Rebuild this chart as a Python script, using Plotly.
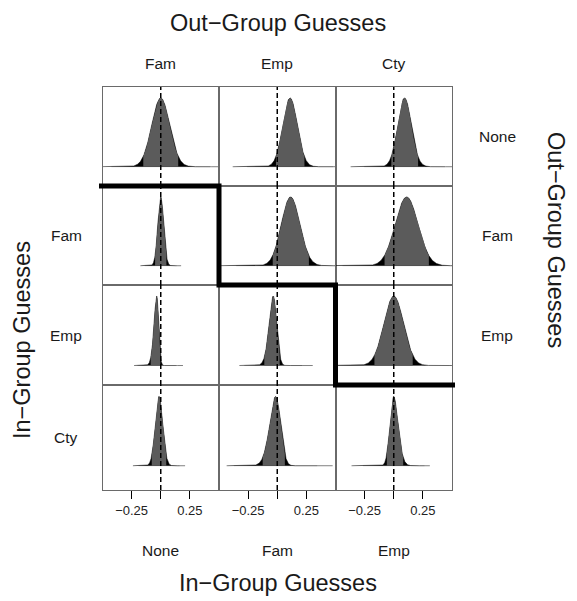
import numpy as np
import plotly.graph_objects as go
from math import erf, sqrt

# ---------------- data ----------------
top_labels = ["Fam", "Emp", "Cty"]          # out-group guesses (columns, top)
right_labels = ["None", "Fam", "Emp"]       # out-group guesses (rows 1-3, right)
left_labels = ["Fam", "Emp", "Cty"]         # in-group guesses (rows 2-4, left)
bottom_labels = ["None", "Fam", "Emp"]      # in-group guesses (columns, bottom)

# per panel (row x col): mode of the posterior density, its spread, its skew
peak = [[0.000, 0.110, 0.093],
        [0.000, 0.115, 0.110],
        [-0.035, -0.035, 0.000],
        [-0.015, -0.015, 0.000]]
spread = [[0.077, 0.067, 0.063],
          [0.025, 0.085, 0.100],
          [0.030, 0.045, 0.090],
          [0.032, 0.065, 0.048]]
skew = [[0.0, 0.5, 0.5],
        [0.0, 0.5, 0.3],
        [-2.0, -1.5, -0.5],
        [0.0, -1.5, 1.5]]

tick_vals = [-0.25, 0.0, 0.25]
tick_text = ["\u22120.25", "", "0.25"]

# ---------------- layout geometry (pixels of the 577x601 window) ----------------
PAGE_OFF = 8            # default page margin around the figure
W, H = 577 - PAGE_OFF, 601 - PAGE_OFF
X_EDGES = [102.5, 219, 335.5, 452]
Y_EDGES = [87, 186, 285, 385, 490]
def px(x):
    return (x - PAGE_OFF) / W
def py(y):
    return 1 - (y - PAGE_OFF) / H

FONT = "Liberation Sans, Arial, Helvetica, sans-serif"
GRAY_FILL = "#5b5b5b"
BORDER = "#6a6a6a"

fig = go.Figure()
shapes = []
annotations = []

for r in range(4):
    for c in range(3):
        k = r * 3 + c + 1
        xa = "x" if k == 1 else f"x{k}"
        ya = "y" if k == 1 else f"y{k}"
        m, s, a = peak[r][c], spread[r][c], skew[r][c]
        x = np.linspace(-7 * s, 7 * s, 1201)
        z = x / s
        pdf = np.exp(-z ** 2 / 2) * (1 + np.array([erf(a * zz / sqrt(2)) for zz in z]))
        x = x - x[np.argmax(pdf)] + m
        pdf = pdf / pdf.max()
        cdf = np.concatenate([[0], np.cumsum((pdf[1:] + pdf[:-1]) / 2 * np.diff(x))])
        cdf = cdf / cdf[-1]
        inner = (cdf >= 0.025) & (cdf <= 0.975)
        # faint baseline
        fig.add_trace(go.Scatter(x=[m - 5.5 * s, m + 5.5 * s], y=[0, 0], mode="lines",
                                 line=dict(color="#cfcfcf", width=1), xaxis=xa, yaxis=ya,
                                 hoverinfo="skip"))
        # black tails (full density)
        fig.add_trace(go.Scatter(x=x, y=pdf, mode="lines", fill="tozeroy",
                                 fillcolor="black", line=dict(color="black", width=0.5),
                                 xaxis=xa, yaxis=ya, hoverinfo="skip"))
        # grey central 95% region
        fig.add_trace(go.Scatter(x=x[inner], y=pdf[inner], mode="lines", fill="tozeroy",
                                 fillcolor=GRAY_FILL, line=dict(color=GRAY_FILL, width=0),
                                 xaxis=xa, yaxis=ya, hoverinfo="skip"))
        # dashed zero line
        shapes.append(dict(type="line", xref=xa, yref=f"{ya} domain", x0=0, x1=0, y0=0, y1=1,
                           line=dict(color="black", width=1.5, dash="5px,3px"), layer="above"))

        yr = [-0.35, 1.165] if r == 3 else [-0.28, 1.158]
        bottom = (r == 3)
        xkey = "xaxis" if k == 1 else f"xaxis{k}"
        ykey = "yaxis" if k == 1 else f"yaxis{k}"
        fig.layout[xkey] = dict(
            domain=[px(X_EDGES[c]), px(X_EDGES[c + 1])], anchor=ya, range=[-0.5, 0.5],
            showgrid=False, zeroline=False, showline=True, mirror=True,
            linecolor=BORDER, linewidth=1,
            tickmode="array", tickvals=tick_vals, ticktext=tick_text,
            ticks="outside" if bottom else "", ticklen=8, tickwidth=1.3, tickcolor="black",
            showticklabels=bottom, tickfont=dict(size=13, color="#222", family=FONT),
        )
        fig.layout[ykey] = dict(
            domain=[py(Y_EDGES[r + 1]), py(Y_EDGES[r])], anchor=xa, range=yr,
            showgrid=False, zeroline=False, showline=True, mirror=True,
            linecolor=BORDER, linewidth=1, showticklabels=False, ticks="",
        )

# thick staircase separating the two halves
stairs = [(99, Y_EDGES[1]), (X_EDGES[1], Y_EDGES[1]), (X_EDGES[1], Y_EDGES[2]),
          (X_EDGES[2], Y_EDGES[2]), (X_EDGES[2], Y_EDGES[3]), (455, Y_EDGES[3])]
path = "M " + " L ".join(f"{px(a):.5f},{py(b):.5f}" for a, b in stairs)
shapes.append(dict(type="path", xref="paper", yref="paper", path=path,
                   line=dict(color="black", width=5), layer="above"))

def txt(text, x, y, size, angle=0):
    annotations.append(dict(text=text, x=px(x), y=py(y), xref="paper", yref="paper",
                            showarrow=False, textangle=angle, xanchor="center", yanchor="middle",
                            font=dict(size=size, color="#1a1a1a", family=FONT)))

centers_x = [(X_EDGES[i] + X_EDGES[i + 1]) / 2 for i in range(3)]
centers_y = [(Y_EDGES[i] + Y_EDGES[i + 1]) / 2 for i in range(4)]

TITLE = 23.5
LAB = 15.5
txt("Out\u2212Group Guesses", 278, 23, TITLE)
for i, lab in enumerate(top_labels):
    txt(lab, centers_x[i], 63, LAB)
for i, lab in enumerate(right_labels):
    txt(lab, 497, centers_y[i], LAB)
for i, lab in enumerate(left_labels):
    txt(lab, 66, centers_y[i + 1], LAB)
for i, lab in enumerate(bottom_labels):
    txt(lab, centers_x[i], 550, LAB)
txt("In\u2212Group Guesses", 278, 583, TITLE)
txt("In\u2212Group Guesses", 22, 340, TITLE, angle=-90)
txt("Out\u2212Group Guesses", 556, 240, TITLE, angle=90)

fig.update_layout(width=W, height=H, margin=dict(l=0, r=0, t=0, b=0),
                  paper_bgcolor="white", plot_bgcolor="white", showlegend=False,
                  shapes=shapes, annotations=annotations, font=dict(family=FONT))
fig.write_html("out.html")
